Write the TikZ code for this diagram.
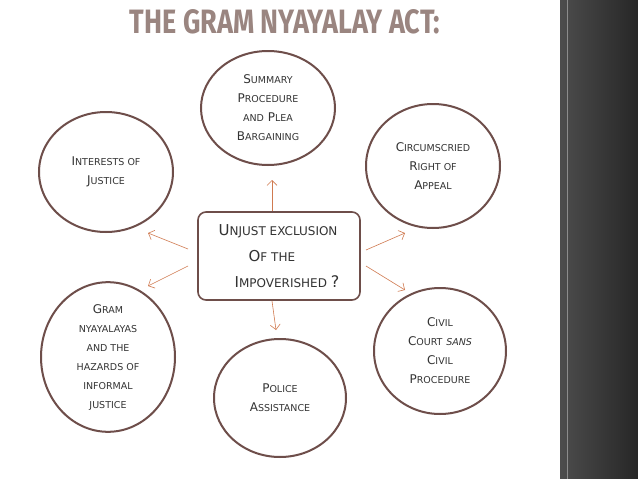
\documentclass[tikz,border=0pt]{standalone}
\usepackage{fontspec}
\setmainfont{DejaVu Sans}
\newfontfamily\titlefont{Fira Sans}
\usetikzlibrary{arrows.meta,shapes.geometric}
\definecolor{ring}{HTML}{6E4E4A}
\definecolor{arr}{HTML}{D07A50}
\definecolor{txt}{HTML}{333333}
\definecolor{ttl}{HTML}{9A8580}
\newcommand{\Sc}[2]{{\fontsize{12}{19}\selectfont #1}{\fontsize{9.5}{19}\selectfont #2}}
\newcommand{\Sb}[2]{{\fontsize{15}{25}\selectfont #1}{\fontsize{12}{25}\selectfont #2}}
\tikzset{
 circ/.style={draw=ring,line width=2pt,ellipse,fill=white,align=center,text=txt,font=\fontsize{12}{19}\selectfont,inner sep=0pt},
 link/.style={draw=arr,line width=0.6pt,-{Straight Barb[length=5pt]}},
}
\begin{document}
\begin{tikzpicture}[x=1pt,y=-1pt]
\useasboundingbox (0,0) rectangle (638,479);
\fill[white] (0,0) rectangle (638,479);
\shade[left color=black!70,right color=black!85] (560,0) rectangle (638,479);
\draw[black!45,line width=0.8pt] (567,0) -- (567,479);
\node[text=ttl,font=\titlefont\bfseries,inner sep=0pt] (title) at (285,22) {\resizebox{310pt}{24pt}{THE GRAM NYAYALAY ACT:}};
\node[draw=ring,line width=1.6pt,rounded corners=8pt,minimum width=162pt,minimum height=88pt,align=left,text=txt,font=\fontsize{12}{26}\selectfont] (c) at (279,256)
 {\Sb{U}{NJUST EXCLUSION}\\\hspace*{30pt}\Sb{O}{F THE}\\\hspace*{16pt}\Sb{I}{MPOVERISHED} {\fontsize{16}{16}\selectfont ?}};
\node[circ,minimum width=134pt,minimum height=114pt] (t) at (268,108) {\Sc{S}{UMMARY}\\\Sc{P}{ROCEDURE}\\\Sc{}{AND} \Sc{P}{LEA}\\\Sc{B}{ARGAINING}};
\node[circ,minimum width=134pt,minimum height=120pt] (tl) at (106,172) {\Sc{I}{NTERESTS OF}\\\Sc{J}{USTICE}};
\node[circ,minimum width=134pt,minimum height=124pt] (tr) at (433,166) {\Sc{C}{IRCUMSCRIED}\\\Sc{R}{IGHT OF}\\\Sc{A}{PPEAL}};
\node[circ,minimum width=134pt,minimum height=136pt] (bl) at (108,357) {\Sc{G}{RAM}\\\Sc{}{NYAYALAYAS}\\\Sc{}{AND THE}\\\Sc{}{HAZARDS OF}\\\Sc{}{INFORMAL}\\\Sc{}{JUSTICE}};
\node[circ,minimum width=132pt,minimum height=118pt] (b) at (280,398) {\Sc{P}{OLICE}\\\Sc{A}{SSISTANCE}};
\node[circ,minimum width=132pt,minimum height=126pt] (br) at (440,351) {\Sc{C}{IVIL}\\\Sc{C}{OURT} {\itshape\Sc{}{SANS}}\\\Sc{C}{IVIL}\\\Sc{P}{ROCEDURE}};
\coordinate (ct) at (272,211); \coordinate (cb) at (272,301);
\coordinate (cl1) at (188,249); \coordinate (cl2) at (188,266);
\coordinate (cr1) at (366,250); \coordinate (cr2) at (366,266);
\coordinate (et) at (272,180); \coordinate (eb) at (276,330);
\coordinate (el1) at (148,233); \coordinate (el2) at (148,286);
\coordinate (er1) at (405,233); \coordinate (er2) at (405,290);
\draw[link] (ct) -- (et);
\draw[link] (cb) -- (eb);
\draw[link] (cl1) -- (el1);
\draw[link] (cl2) -- (el2);
\draw[link] (cr1) -- (er1);
\draw[link] (cr2) -- (er2);
\end{tikzpicture}
\end{document}
